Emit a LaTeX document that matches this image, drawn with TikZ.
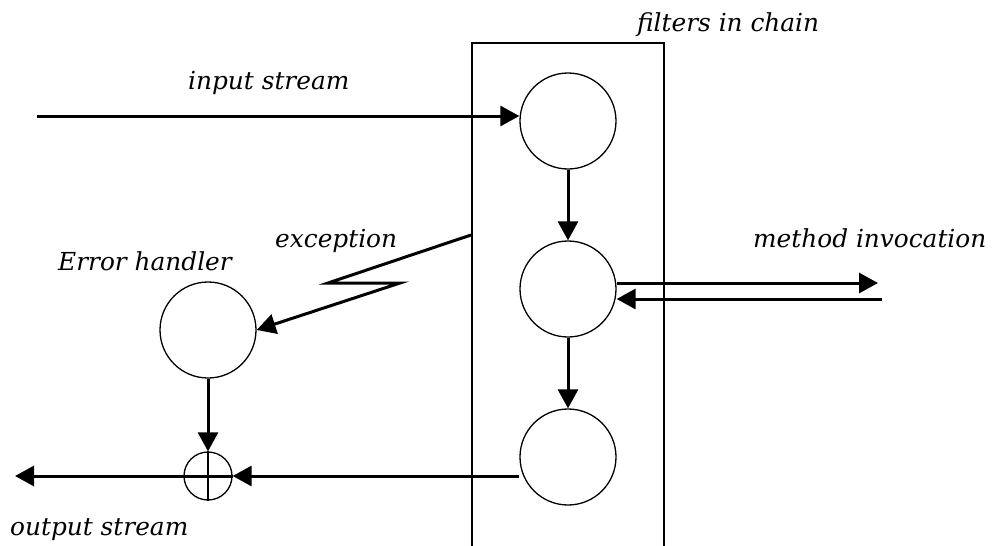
\documentclass[tikz,border=0pt]{standalone}
\usepackage{fontspec}
\setmainfont{DejaVu Serif}
\usetikzlibrary{arrows.meta,calc}

\tikzset{
  filter/.style={circle,draw,line width=1.3pt,minimum size=96pt,inner sep=0pt},
  junction/.style={circle,draw,line width=1.3pt,minimum size=48pt,inner sep=0pt},
  flow/.style={line width=3pt,-{Triangle[length=19pt,width=20pt]}},
  frame/.style={line width=2.4pt},
  lbl/.style={font=\itshape\fontsize{24.8}{29}\selectfont,inner sep=0pt,anchor=base west},
}

\begin{document}
\begin{tikzpicture}[x=1pt,y=-1pt]
  \useasboundingbox (0,0) rectangle (996,546);

  % chain of filters
  \draw[frame] (472,546) -- (472,43) -- (664,43) -- (664,546);
  \node[filter] (f1) at (568,121) {};
  \node[filter] (f2) at (568,289) {};
  \node[filter] (f3) at (568,457) {};

  % error handler and the merge point
  \node[filter] (eh) at (208,330) {};
  \node[junction] (sum) at (208,476) {};

  % free ends
  \coordinate (inS) at (37,116);
  \coordinate (outE) at (15,476);
  \coordinate (mo) at (878,283);
  \coordinate (mi) at (882,299);
  \coordinate (ex0) at (471,235);
  \coordinate (ex1) at (328,283);
  \coordinate (ex2) at (400,283);

  % input stream
  \draw[flow] (inS) -- (inS -| f1.west);

  % filter to filter
  \draw[flow] (f1) -- (f2);
  \draw[flow] (f2) -- (f3);

  % method invocation and return
  \draw[flow] (f2.east |- mo) -- (mo);
  \draw[flow] (mi) -- (f2.east |- mi);

  % exception bolt
  \draw[flow] (ex0) -- (ex1) -- (ex2) -- (eh.east);

  % handler into the merge point
  \draw[flow] (eh) -- (sum.north);
  \draw[line width=2pt] (sum.north) -- (sum.south);

  % output stream
  \draw[flow] (f3.west |- sum) -- (sum.east);
  \draw[flow] (sum.east) -- (outE);

  % labels
  \node[lbl] (tFilters) at (637,31) {filters in chain};
  \node[lbl] (tInput) at (188,89) {input stream};
  \node[lbl] (tExc) at (275,247) {exception};
  \node[lbl] (tMethod) at (753,247) {method invocation};
  \node[lbl] (tError) at (58,270) {Error handler};
  \node[lbl] (tOutput) at (10,535) {output stream};
\end{tikzpicture}
\end{document}
